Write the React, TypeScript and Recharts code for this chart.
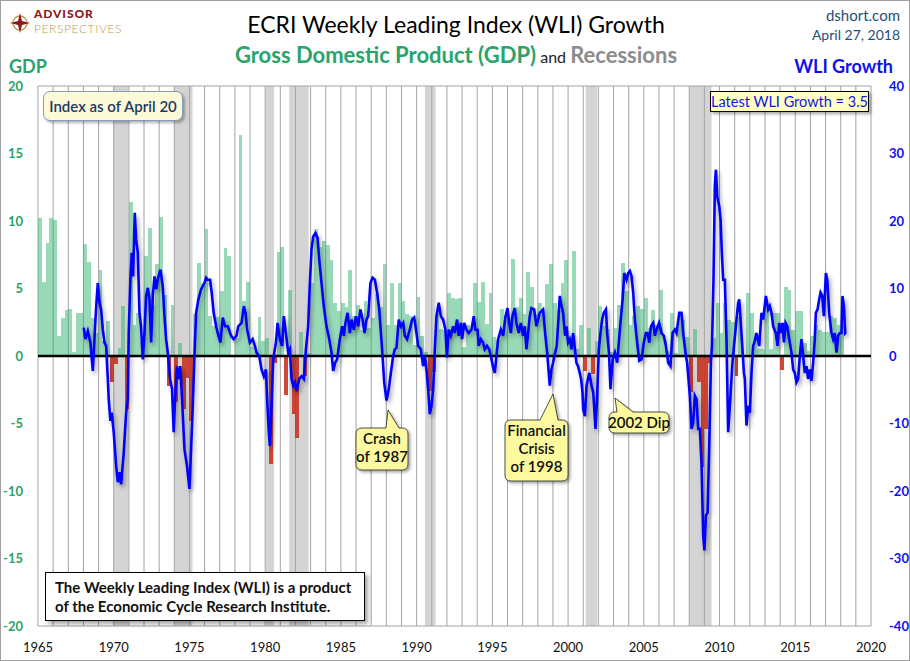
import React from 'react'
import {
  ComposedChart,
  Bar,
  Line,
  XAxis,
  YAxis,
  CartesianGrid,
  ReferenceArea,
  ReferenceLine,
} from 'recharts'

// real GDP growth, quarterly (annualized %), first bar = 1965 Q1
const GDP_START = 1965
const GDP_1965_69 = [10.2, 5.5, 8.4, 10.2, 10.1, 1.5, 2.8, 3.4, 3.5, 0.3, 3.2, 3.2, 8.3, 7.0, 2.8, 1.7, 6.4, 1.1, 2.6, -1.9]
const GDP_1970S = [
  -0.6, 0.6, 3.7, -3.9, 11.4, 2.3, 3.2, 1.1, 7.4, 9.5, 3.8, 6.8, 10.3, 4.5, -2.2, 3.8, -3.4, 1.0, -3.9, -1.6,
  -4.8, 3.1, 6.9, 5.4, 9.4, 3.0, 2.2, 2.9, 4.8, 8.0, 7.4, 0.0, 1.3, 16.4, 4.1, 5.5, 0.7, 0.4, 2.9, 1.1,
]
const GDP_1980S = [
  1.3, -8.0, -0.5, 7.7, 8.1, -2.9, 4.9, -4.3, -6.1, 1.8, -1.5, 0.2, 5.4, 9.4, 8.1, 8.5, 8.2, 7.1, 3.9, 3.3,
  3.9, 3.6, 6.4, 3.0, 3.8, 1.9, 4.1, 2.1, 2.8, 4.6, 3.6, 6.8, 2.3, 5.4, 2.3, 5.4, 4.1, 3.1, 3.0, 0.8,
]
const GDP_1990S = [
  4.4, 1.5, 0.3, -2.6, -1.2, 3.2, 2.0, 1.9, 4.7, 4.3, 4.2, 4.3, 0.7, 2.3, 1.9, 5.4, 4.0, 5.5, 2.4, 4.7,
  1.4, 1.2, 3.5, 3.0, 2.8, 7.2, 3.6, 4.3, 3.1, 6.2, 5.1, 3.1, 3.9, 3.4, 5.3, 6.8, 3.9, 3.4, 5.4, 7.1,
]
const GDP_2000S = [
  1.2, 7.8, 0.5, 2.3, -1.1, 2.1, -1.3, 1.1, 3.7, 2.2, 2.0, 0.3, 2.1, 3.8, 6.9, 4.8, 2.3, 3.0, 3.7, 3.5,
  4.3, 2.1, 3.4, 2.3, 4.9, 1.2, 0.4, 3.2, 0.2, 3.1, 2.7, 1.4, -2.7, 2.0, -1.9, -8.2, -5.4, -0.5, 1.3, 3.9,
]
const GDP_2010S = [
  1.7, 3.9, 2.7, 2.5, -1.5, 2.9, -0.1, 4.7, 3.2, 1.7, 0.5, 0.5, 3.6, 0.5, 3.2, 3.2, -1.0, 5.1, 4.9, 1.9,
  3.3, 3.3, 1.0, 0.4, 1.5, 2.3, 1.9, 1.8, 1.8, 3.0, 2.8, 2.3, 2.3,
]

// ECRI WLI growth, [decimal year, value]
const WLI_1968_77: [number, number][] = [
  [1968.02, 4.2], [1968.13, 2.5], [1968.29, 3.7], [1968.46, 2.0], [1968.62, -2.2], [1968.77, 4.4], [1968.86, 7.9],
  [1968.95, 10.8], [1969.06, 7.9], [1969.17, 6.9], [1969.28, 3.9], [1969.39, 2.0], [1969.5, 1.5], [1969.61, -3.4],
  [1969.67, -6.4], [1969.78, -9.6], [1969.87, -8.4], [1970.0, -11.3], [1970.16, -16.3], [1970.27, -18.7],
  [1970.38, -17.2], [1970.49, -19.0], [1970.66, -14.3], [1970.82, -8.4], [1970.93, -6.4], [1970.99, 3.4],
  [1971.1, 11.3], [1971.19, 15.3], [1971.28, 11.8], [1971.39, 21.2], [1971.48, 17.2], [1971.59, 15.3],
  [1971.7, 6.4], [1971.8, 4.4], [1971.92, -0.5], [1972.03, 3.4], [1972.14, 8.9], [1972.25, 10.1], [1972.36, 8.4],
  [1972.47, 2.0], [1972.58, 8.9], [1972.69, 11.8], [1972.8, 9.9], [1972.9, 11.3], [1973.08, 12.8],
  [1973.24, 10.3], [1973.35, 5.9], [1973.46, 2.5], [1973.57, 0.5], [1973.72, -3.4], [1973.85, -4.9],
  [1973.96, -11.3], [1974.05, -6.4], [1974.18, -1.5], [1974.27, -3.4], [1974.4, -1.5], [1974.51, -6.4],
  [1974.67, -13.8], [1974.84, -16.3], [1975.0, -19.7], [1975.1, -14.3], [1975.22, -7.4], [1975.33, 0],
  [1975.44, 6.4], [1975.59, 8.4], [1975.77, 9.9], [1975.99, 10.8], [1976.1, 11.6], [1976.2, 11.3],
  [1976.36, 11.3], [1976.47, 9.4], [1976.6, 6.4], [1976.76, 4.4], [1976.91, 3.0], [1977.04, 2.0],
  [1977.2, 5.7], [1977.35, 4.4], [1977.53, 4.4], [1977.75, 3.0], [1977.92, 2.5],
]
const WLI_1978_87: [number, number][] = [
  [1978.11, 3.0], [1978.22, 4.4], [1978.44, 4.9], [1978.59, 7.4], [1978.7, 6.4], [1978.81, 3.9], [1978.99, 2.0],
  [1979.17, 2.5], [1979.32, 1.5], [1979.43, 0.5], [1979.61, 0], [1979.76, -2.0], [1979.91, -3.0], [1980.05, -2.0],
  [1980.13, -6.4], [1980.24, -11.3], [1980.31, -13.3], [1980.42, -7.4], [1980.53, -0.5], [1980.71, 2.0],
  [1980.82, 4.9], [1980.97, 2.5], [1981.12, 1.5], [1981.23, 5.9], [1981.37, 3.4], [1981.52, 0.5], [1981.63, 1.0],
  [1981.74, -3.4], [1981.85, -4.4], [1981.96, -3.9], [1982.07, -5.2], [1982.25, -3.4], [1982.4, -3.0],
  [1982.55, -3.4], [1982.69, 1.0], [1982.84, 4.4], [1982.95, 10.8], [1983.06, 15.8], [1983.17, 17.7],
  [1983.32, 18.2], [1983.46, 17.5], [1983.57, 14.3], [1983.72, 10.8], [1983.87, 7.4], [1984.05, 4.4],
  [1984.23, 2.5], [1984.38, 0.5], [1984.49, -2.2], [1984.62, -1.0], [1984.75, -0.5], [1984.93, 2.5],
  [1985.08, 4.4], [1985.19, 3.0], [1985.3, 4.9], [1985.44, 6.4], [1985.59, 3.4], [1985.7, 5.4], [1985.85, 3.9],
  [1985.99, 5.9], [1986.14, 4.4], [1986.29, 6.9], [1986.43, 5.4], [1986.56, 3.4], [1986.69, 5.4], [1986.8, 5.9],
  [1986.95, 10.8], [1987.09, 11.6], [1987.24, 11.3], [1987.39, 9.4], [1987.53, 6.9],
]
const WLI_1988_97: [number, number][] = [
  [1987.72, 1.0], [1987.86, -3.9], [1988.01, -6.6], [1988.16, -4.9], [1988.3, -2.5], [1988.45, 0], [1988.56, 1.0],
  [1988.67, 1.2], [1988.82, 5.4], [1988.96, 4.4], [1989.11, 4.9], [1989.22, 3.0], [1989.37, 2.5], [1989.55, 3.9],
  [1989.7, 5.4], [1989.84, 5.7], [1989.99, 3.4], [1990.1, 1.5], [1990.28, 1.0], [1990.43, -1.5], [1990.54, 0],
  [1990.65, -2.0], [1990.76, -4.9], [1990.87, -8.6], [1990.98, -7.4], [1991.09, -4.9], [1991.2, 1.0],
  [1991.31, 5.9], [1991.46, 7.9], [1991.6, 5.9], [1991.75, 5.4], [1991.9, 3.9], [1992.0, -0.2], [1992.12, 3.9],
  [1992.26, 3.0], [1992.41, 4.4], [1992.52, 3.4], [1992.67, 5.4], [1992.78, 3.0], [1992.92, 4.9], [1993.0, 2.5],
  [1993.14, 4.9], [1993.29, 3.9], [1993.44, 3.4], [1993.62, 3.9], [1993.77, 5.9], [1993.88, 3.9], [1994.02, 3.9],
  [1994.1, 1.5], [1994.24, 2.5], [1994.39, 2.0], [1994.5, 1.0], [1994.65, 1.5], [1994.79, 1.0], [1994.9, 0],
  [1995.05, -1.7], [1995.16, -2.5], [1995.27, 0], [1995.38, 2.5], [1995.56, 3.9], [1995.71, 3.0], [1995.87, 5.9],
  [1996.0, 7.1], [1996.11, 4.9], [1996.22, 3.4], [1996.33, 5.9], [1996.48, 7.1], [1996.59, 4.9], [1996.74, 3.4],
  [1996.88, 4.9], [1997.03, 3.0], [1997.14, 4.4], [1997.25, 1.0], [1997.36, 3.4], [1997.47, 5.9],
  [1997.58, 7.1], [1997.76, 6.9],
]
const WLI_1998_2007: [number, number][] = [
  [1997.91, 4.4], [1998.13, 6.4], [1998.35, 6.9], [1998.5, 3.0], [1998.62, 0.5], [1998.79, -4.4], [1998.9, -2.0],
  [1999.01, -1.0], [1999.15, 0.5], [1999.25, 1.5], [1999.35, 5.0], [1999.45, 8.9], [1999.56, 7.5], [1999.67, 6.4],
  [1999.8, 3.0], [1999.89, 4.4], [2000.0, 2.0], [2000.11, 2.5], [2000.22, 1.0], [2000.33, 3.4], [2000.45, 1.0],
  [2000.55, -1.0], [2000.66, -1.5], [2000.77, -2.5], [2000.86, -3.4], [2000.95, -5.4], [2001.0, -7.9],
  [2001.11, -8.9], [2001.22, -4.4], [2001.4, -2.5], [2001.55, -4.4], [2001.66, -5.4], [2001.81, -10.8],
  [2001.92, -5.9], [2002.03, 1.0], [2002.14, 3.4], [2002.25, 5.4], [2002.36, 6.4], [2002.5, 6.9], [2002.58, 3.4],
  [2002.7, 0.5], [2002.8, -4.9], [2002.94, -0.5], [2003.09, 0.5], [2003.24, -1.0], [2003.42, 3.9], [2003.6, 8.4],
  [2003.71, 12.3], [2003.86, 11.3], [2003.97, 12.3], [2004.08, 12.6], [2004.19, 11.8], [2004.3, 9.4],
  [2004.41, 5.4], [2004.56, 2.0], [2004.7, -0.7], [2004.85, -0.5], [2005.0, 2.0], [2005.14, 3.4], [2005.25, 3.4],
  [2005.36, 2.0], [2005.47, 4.4], [2005.62, 4.9], [2005.73, 3.0], [2005.84, 3.9], [2006.01, 4.9], [2006.17, 3.4],
  [2006.32, 3.0], [2006.46, 1.5], [2006.61, -1.0], [2006.76, -1.5], [2006.9, 3.4], [2007.05, 3.9],
  [2007.16, 3.4], [2007.34, 6.4], [2007.49, 6.4], [2007.6, 3.4], [2007.78, 0], [2007.86, -1.0],
]
const WLI_2008_18: [number, number][] = [
  [2008.04, -5.9], [2008.15, -10.8], [2008.26, -9.9], [2008.37, -5.9], [2008.48, -6.4], [2008.59, -10.8],
  [2008.7, -10.8], [2008.81, -15.8], [2008.92, -26.6], [2009.0, -28.8], [2009.1, -23.6], [2009.21, -23.2],
  [2009.32, -13.3], [2009.43, -1.0], [2009.5, 1.5], [2009.6, 11.3], [2009.69, 25.1], [2009.76, 27.6],
  [2009.85, 23.6], [2009.98, 22.2], [2010.07, 20.2], [2010.15, 15.3], [2010.24, 11.3], [2010.35, 11.3],
  [2010.46, 2.5], [2010.57, -11.3], [2010.72, -5.9], [2010.85, -1.0], [2011.12, 5.4], [2011.23, 7.9],
  [2011.3, 8.4], [2011.39, 5.4], [2011.5, 1.5], [2011.61, -2.5], [2011.67, -3.4], [2011.78, -10.3],
  [2011.89, -7.4], [2012.0, -8.4], [2012.11, -2.5], [2012.22, 1.5], [2012.3, 2.0], [2012.44, 3.4],
  [2012.62, 1.5], [2012.77, 6.4], [2012.88, 5.4], [2013.06, 8.9], [2013.21, 6.9], [2013.32, 7.4],
  [2013.43, 6.4], [2013.54, 4.4], [2013.72, 3.4], [2013.83, 1.5], [2013.94, 4.9], [2014.05, 3.4],
  [2014.16, 4.9], [2014.25, 2.0], [2014.36, 4.9], [2014.47, 4.4], [2014.6, 2.5], [2014.75, 0.5],
  [2014.86, -2.0], [2014.97, -2.5], [2015.08, -3.9], [2015.19, -3.4], [2015.3, 0], [2015.41, 2.5],
  [2015.52, 0], [2015.63, -2.5], [2015.74, -1.5], [2015.85, -3.4], [2015.96, -2.0], [2016.07, -3.7],
  [2016.18, -1.0], [2016.29, 2.5], [2016.36, 6.4], [2016.47, 6.9], [2016.58, 8.4], [2016.67, 9.4],
  [2016.78, 8.9], [2016.89, 5.9], [2017.02, 12.3], [2017.11, 11.3], [2017.24, 6.4], [2017.39, 3.4],
  [2017.5, 2.5], [2017.61, 3.4], [2017.72, 0.5], [2017.83, 3.0], [2017.94, 3.4], [2018.05, 3.4],
  [2018.12, 8.9], [2018.21, 7.4], [2018.3, 3.4], [2018.34, 3.5],
]

const RECESSION_START = [1970.0, 1973.98, 1980.03, 1981.59, 1990.55, 2001.17, 2008.0]
const RECESSION_END = [1970.95, 1975.2, 1980.58, 1982.87, 1991.25, 2001.92, 2009.47]

const YEAR_TICKS = Array.from({ length: 56 }, (_, i) => 1965 + i)
const GDP_TICKS = [-20, -15, -10, -5, 0, 5, 10, 15, 20]
const WLI_TICKS = [-40, -30, -20, -10, 0, 10, 20, 30, 40]

type Row = { t: number; gdp?: number; wli?: number }

const GDP = [...GDP_1965_69, ...GDP_1970S, ...GDP_1980S, ...GDP_1990S, ...GDP_2000S, ...GDP_2010S]
const WLI = [...WLI_1968_77, ...WLI_1978_87, ...WLI_1988_97, ...WLI_1998_2007, ...WLI_2008_18]
const rows: Row[] = [
  ...GDP.map((v, i) => ({ t: GDP_START + (i + 0.5) / 4, gdp: v })),
  ...WLI.map(([t, v]) => ({ t, wli: v })),
].sort((a, b) => a.t - b.t)

const FONT = 'Lato, "Open Sans", sans-serif'
const GREEN_TXT = '#2ba36a'
const GREEN_BAR = 'rgba(40,175,105,0.48)'
const RED_BAR = 'rgba(200,48,28,0.88)'
const CALLOUT_FILL = '#fdf99e'
const QUARTER_PX = 833 / 55 / 4

// quarter-wide bar centred on the slot recharts gives us
function GdpBar(props: any) {
  const { x, y, width, height, payload } = props
  if (payload == null || payload.gdp == null || !isFinite(x) || !isFinite(y)) return <g />
  const cx = x + width / 2
  const top = height < 0 ? y + height : y
  return (
    <rect
      x={cx - QUARTER_PX / 2}
      y={top}
      width={QUARTER_PX}
      height={Math.abs(height)}
      fill={payload.gdp >= 0 ? GREEN_BAR : RED_BAR}
      shapeRendering="crispEdges"
    />
  )
}

function calloutPath(x: number, y: number, w: number, h: number, r: number, b1: number, b2: number, tx: number, ty: number) {
  return [
    `M ${x + r} ${y}`,
    `L ${b1} ${y}`,
    `L ${tx} ${ty}`,
    `L ${b2} ${y}`,
    `L ${x + w - r} ${y}`,
    `Q ${x + w} ${y} ${x + w} ${y + r}`,
    `L ${x + w} ${y + h - r}`,
    `Q ${x + w} ${y + h} ${x + w - r} ${y + h}`,
    `L ${x + r} ${y + h}`,
    `Q ${x} ${y + h} ${x} ${y + h - r}`,
    `L ${x} ${y + r}`,
    `Q ${x} ${y} ${x + r} ${y}`,
    'Z',
  ].join(' ')
}

const CALLOUTS = [
  { x: 355, y: 427, w: 52, h: 42, b1: 385, b2: 398, tx: 387, ty: 409, lines: ['Crash', 'of 1987'] },
  { x: 504, y: 419, w: 63, h: 61, b1: 539, b2: 557, tx: 552, ty: 393, lines: ['Financial', 'Crisis', 'of 1998'] },
  { x: 608, y: 411, w: 60, h: 21, b1: 616, b2: 632, tx: 614, ty: 397, lines: ['2002 Dip'] },
]

export default function App() {
  return (
    <div
      style={{
        position: 'absolute',
        left: 0,
        top: 0,
        width: 910,
        height: 661,
        background: '#fff',
        fontFamily: FONT,
        boxSizing: 'border-box',
        border: '1px solid #a0a0a0',
        overflow: 'hidden',
      }}
    >
      <style>{`body{margin:0} .recharts-line-curve{filter:drop-shadow(2px 3px 2px rgba(0,0,0,0.35))}`}</style>
      <div style={{ position: 'absolute', left: -1, top: -1 }}>
        <ComposedChart width={910} height={661} data={rows} margin={{ top: 86, right: 0, bottom: 0, left: 0 }} barGap={0}>
          {RECESSION_START.map((s, i) => (
            <ReferenceArea key={i} yAxisId="gdp" x1={s} x2={RECESSION_END[i]} y1={-20} y2={20} fill="#a9a9a9" fillOpacity={0.5} stroke="none" />
          ))}
          <CartesianGrid stroke="#a3a3a3" strokeWidth={1} />
          <XAxis
            dataKey="t"
            type="number"
            domain={[1965, 2020]}
            ticks={YEAR_TICKS}
            interval={0}
            allowDataOverflow
            tickFormatter={(v: number) => (v % 5 === 0 ? String(v) : '')}
            height={35}
            axisLine={false}
            tickLine={false}
            tickMargin={11}
            tick={{ fill: '#111', fontSize: 13, fontFamily: FONT }}
          />
          <YAxis
            yAxisId="gdp"
            domain={[-20, 20]}
            ticks={GDP_TICKS}
            width={38}
            axisLine={false}
            tickLine={false}
            tickMargin={9}
            tick={{ fill: GREEN_TXT, fontSize: 13, fontWeight: 700, fontFamily: FONT }}
          />
          <YAxis
            yAxisId="wli"
            orientation="right"
            domain={[-40, 40]}
            ticks={WLI_TICKS}
            width={39}
            axisLine={false}
            tickLine={false}
            tickMargin={12}
            tick={{ fill: '#1010ee', fontSize: 13, fontWeight: 700, fontFamily: FONT, textAnchor: 'start' }}
          />
          <Bar yAxisId="gdp" dataKey="gdp" fill={GREEN_BAR} shape={GdpBar} isAnimationActive={false} />
          <ReferenceLine yAxisId="gdp" y={0} stroke="#000" strokeWidth={2.5} />
          <Line
            yAxisId="wli"
            dataKey="wli"
            type="linear"
            stroke="#0000ff"
            strokeWidth={2.6}
            dot={false}
            activeDot={false}
            connectNulls
            isAnimationActive={false}
          />
        </ComposedChart>
      </div>

      {/* header */}
      <div style={{ position: 'absolute', left: 0, width: 910, top: 9, textAlign: 'center', fontSize: 23, color: '#000' }}>
        ECRI Weekly Leading Index (WLI) Growth
      </div>
      <div style={{ position: 'absolute', left: 0, width: 910, top: 40, textAlign: 'center', whiteSpace: 'nowrap' }}>
        <span style={{ fontSize: 22, fontWeight: 700, color: GREEN_TXT }}>Gross Domestic Product (GDP)</span>
        <span style={{ fontSize: 16, color: '#222' }}> and </span>
        <span style={{ fontSize: 22, fontWeight: 700, color: '#8c8c8c' }}>Recessions</span>
      </div>
      <div style={{ position: 'absolute', right: 9, top: 4, fontSize: 15, color: '#1f4e79', textAlign: 'right', lineHeight: '20px' }}>
        <div>dshort.com</div>
        <div style={{ fontSize: 14 }}>April 27, 2018</div>
      </div>
      <div style={{ position: 'absolute', left: 8, top: 54, fontSize: 18, fontWeight: 700, color: GREEN_TXT }}>GDP</div>
      <div style={{ position: 'absolute', right: 16, top: 54, fontSize: 18, fontWeight: 700, color: '#1010ee' }}>WLI Growth</div>

      {/* logo */}
      <svg style={{ position: 'absolute', left: 9, top: 12 }} width={20} height={20} viewBox="0 0 20 20">
        <circle cx={10} cy={10} r={7} fill="none" stroke="#b89a55" strokeWidth={1.3} />
        <polygon points="10,0 12,8 20,10 12,12 10,20 8,12 0,10 8,8" fill="#8b1a1a" />
      </svg>
      <div style={{ position: 'absolute', left: 33, top: 7, fontSize: 12, fontWeight: 900, color: '#8b1a1a', lineHeight: '12px', letterSpacing: 0.9 }}>
        ADVISOR
      </div>
      <div style={{ position: 'absolute', left: 33, top: 22, fontSize: 12, fontWeight: 300, color: '#b89a55', lineHeight: '12px', letterSpacing: 0.6 }}>
        PERSPECTIVES
      </div>

      {/* boxes */}
      <div
        style={{
          position: 'absolute', left: 42, top: 90, width: 140, height: 30, boxSizing: 'border-box',
          background: '#fdfad8', border: '1px solid #7f9cc2', borderRadius: 7,
          boxShadow: '2px 2px 3px rgba(0,0,0,0.3)', color: '#1f3864', fontSize: 15, fontWeight: 600,
          display: 'flex', alignItems: 'center', justifyContent: 'center',
        }}
      >
        Index as of April 20
      </div>
      <div
        style={{
          position: 'absolute', left: 709, top: 90, width: 159, height: 21, boxSizing: 'border-box',
          background: '#ffffc4', border: '1px solid #000', boxShadow: '2px 2px 3px rgba(0,0,0,0.35)',
          color: '#1515e0', fontSize: 14.5, display: 'flex', alignItems: 'center', justifyContent: 'center',
        }}
      >
        Latest WLI Growth = 3.5
      </div>
      <div
        style={{
          position: 'absolute', left: 44, top: 571, width: 320, height: 49, boxSizing: 'border-box',
          background: '#fff', border: '1px solid #000', boxShadow: '3px 3px 4px rgba(0,0,0,0.35)',
          color: '#111', fontSize: 15, fontWeight: 700, padding: '5px 0 0 9px', lineHeight: '19px',
        }}
      >
        The Weekly Leading Index (WLI) is a product
        <br />
        of the Economic Cycle Research Institute.
      </div>

      {/* callouts */}
      <svg style={{ position: 'absolute', left: 0, top: 0, pointerEvents: 'none' }} width={910} height={661}>
        <defs>
          <filter id="shadow" x="-20%" y="-20%" width="150%" height="150%">
            <feDropShadow dx={2} dy={2} stdDeviation={1.5} floodColor="#000" floodOpacity={0.35} />
          </filter>
        </defs>
        {CALLOUTS.map((c, i) => (
          <g key={i}>
            <path
              d={calloutPath(c.x, c.y, c.w, c.h, 6, c.b1, c.b2, c.tx, c.ty)}
              fill={CALLOUT_FILL}
              stroke="#222"
              strokeWidth={0.8}
              filter="url(#shadow)"
            />
            {c.lines.map((ln, j) => (
              <text
                key={j}
                x={c.x + c.w / 2}
                y={c.y + 16 + j * 18}
                textAnchor="middle"
                fontFamily={FONT}
                fontSize={15}
                fontWeight={600}
                fill="#111"
              >
                {ln}
              </text>
            ))}
          </g>
        ))}
      </svg>
    </div>
  )
}
